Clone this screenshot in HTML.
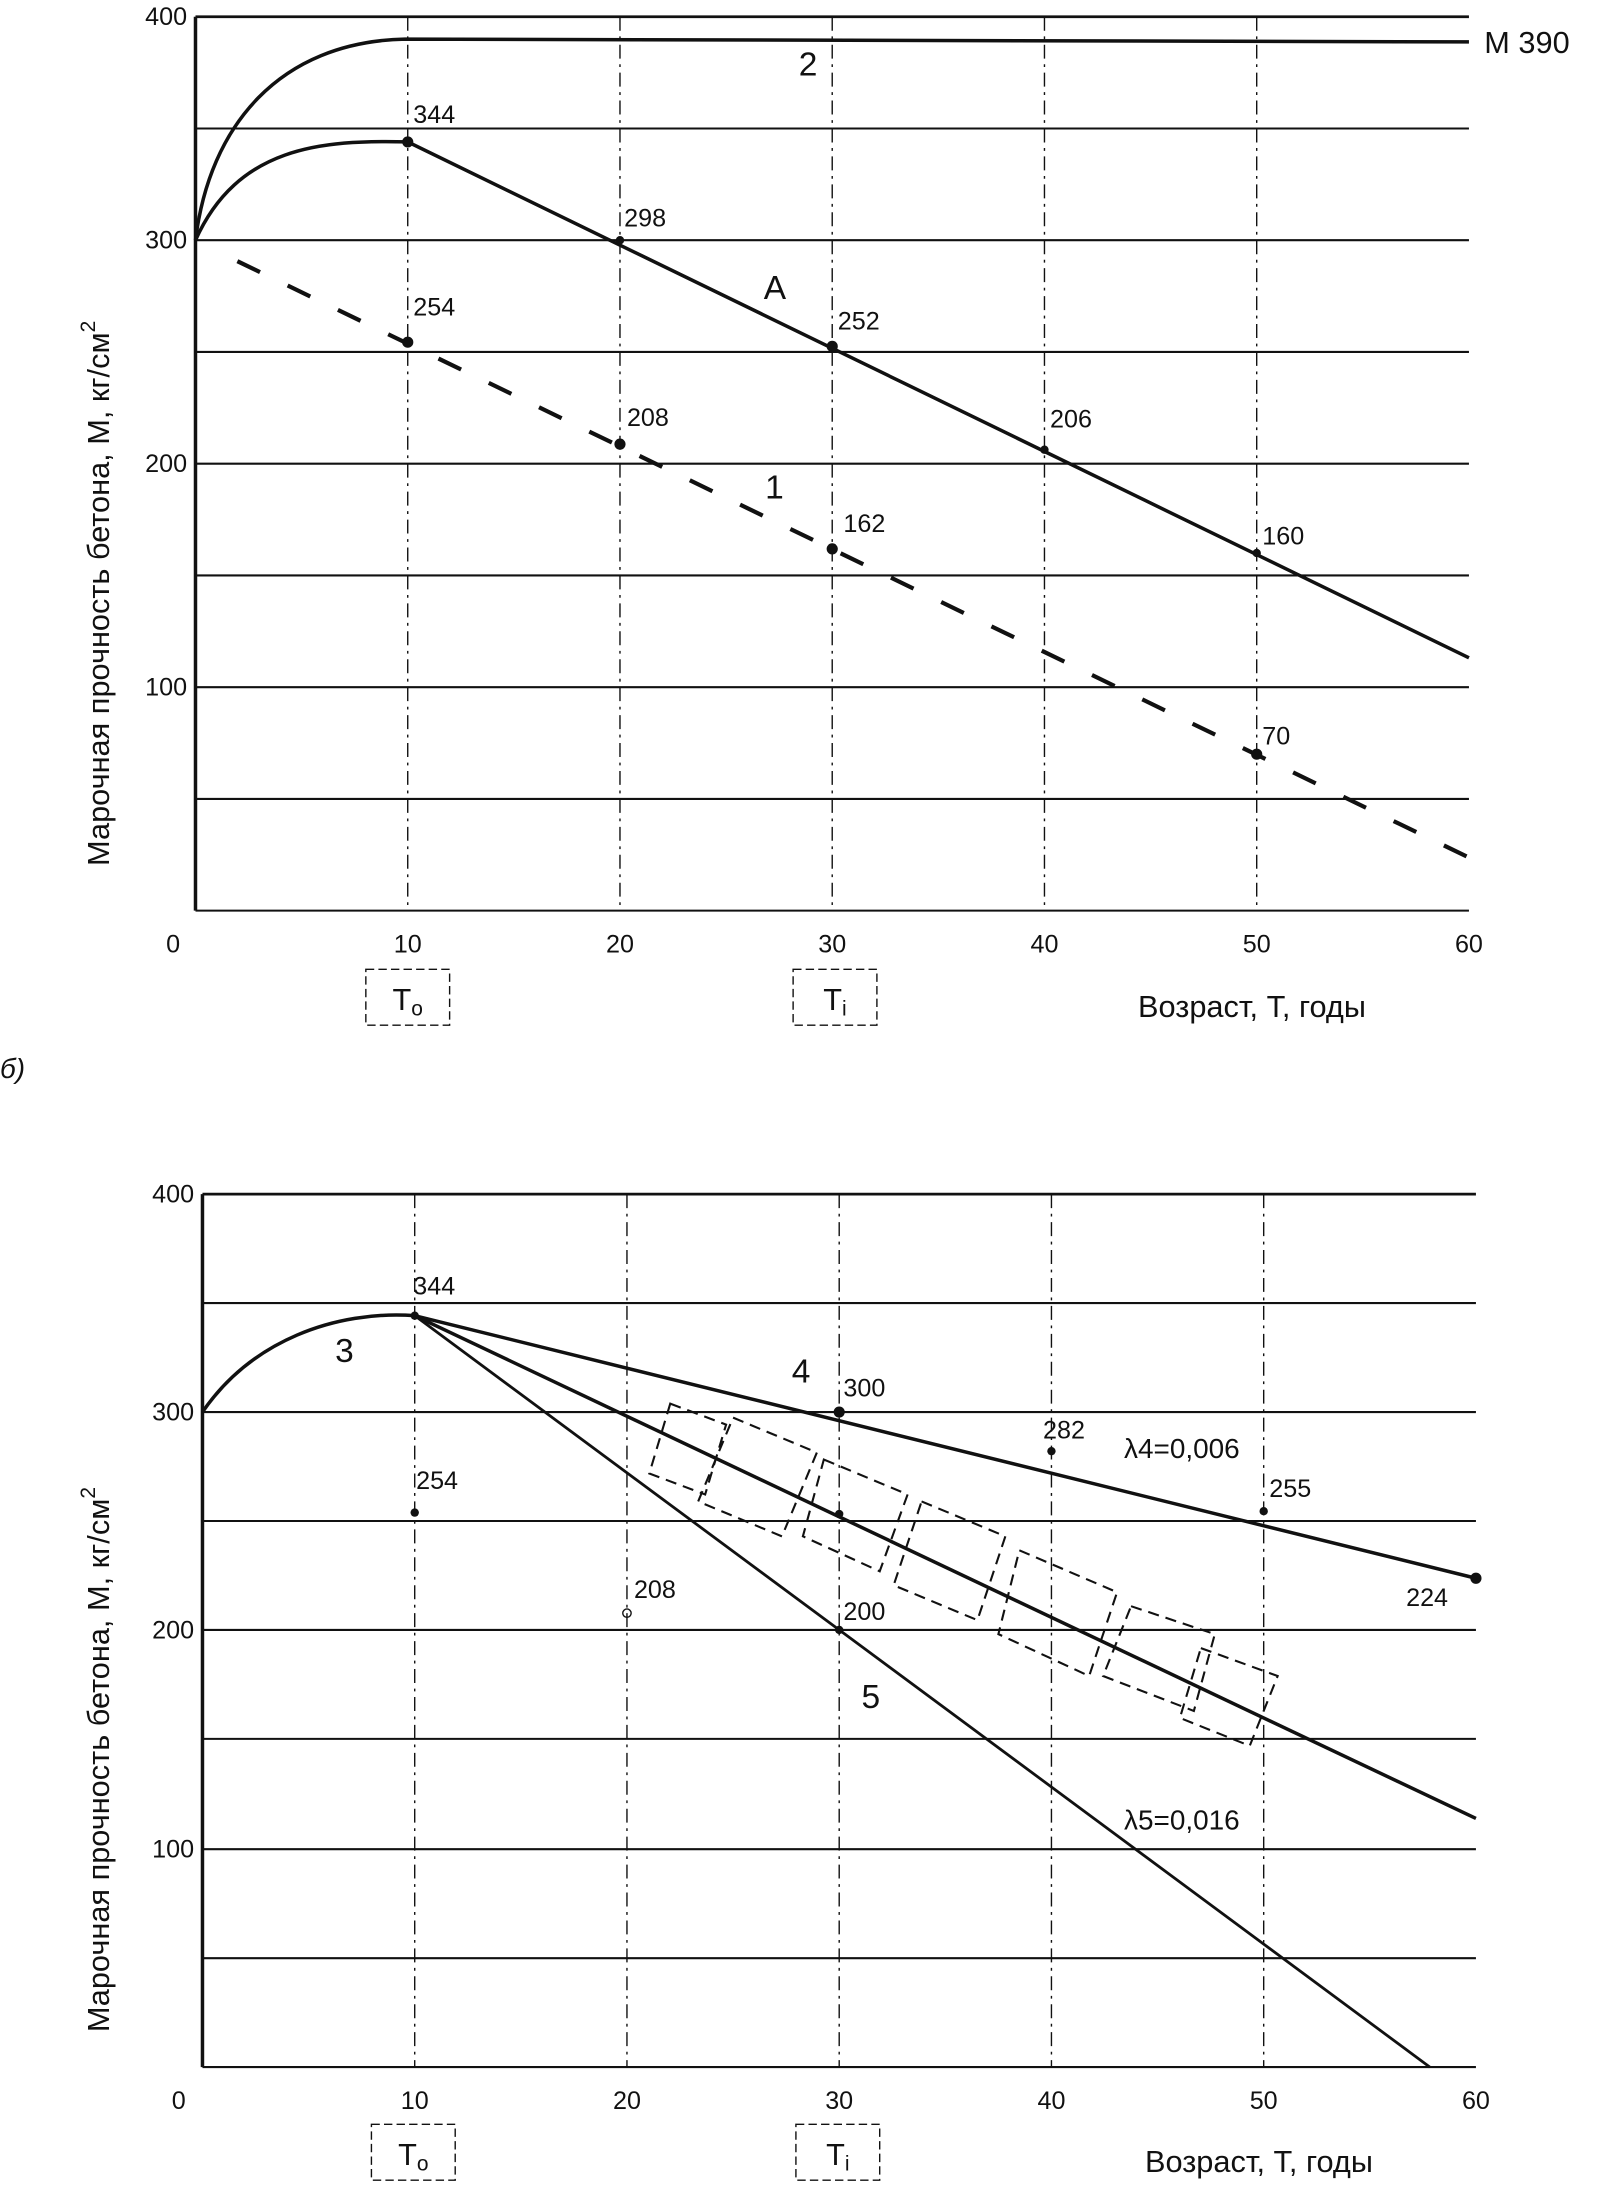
<!DOCTYPE html>
<html><head><meta charset="utf-8"><style>
html,body{margin:0;padding:0;background:#fff}
svg{display:block}
text{font-family:"Liberation Sans",sans-serif;fill:#111}
</style></head><body>
<svg width="1603" height="2190" viewBox="0 0 1148 1568" preserveAspectRatio="none" xmlns="http://www.w3.org/2000/svg">
<g stroke="#111" fill="none">
<!-- TOP CHART -->
<line x1="140" y1="12" x2="1052" y2="12" stroke-width="2"/>
<line x1="140" y1="12" x2="140" y2="652" stroke-width="2.5"/>
<line x1="140" y1="652" x2="1052" y2="652" stroke-width="1.5"/>
<g stroke-width="1.5">
<line x1="140" y1="92" x2="1052" y2="92"/><line x1="140" y1="172" x2="1052" y2="172"/>
<line x1="140" y1="252" x2="1052" y2="252"/><line x1="140" y1="332" x2="1052" y2="332"/>
<line x1="140" y1="412" x2="1052" y2="412"/><line x1="140" y1="492" x2="1052" y2="492"/>
<line x1="140" y1="572" x2="1052" y2="572"/>
</g>
<g stroke-width="1" stroke-dasharray="10,4,2,4">
<line x1="292" y1="12" x2="292" y2="652"/><line x1="444" y1="12" x2="444" y2="652"/>
<line x1="596" y1="12" x2="596" y2="652"/><line x1="748" y1="12" x2="748" y2="652"/>
<line x1="900" y1="12" x2="900" y2="652"/>
</g>
<path d="M140 172 C150 90 200 30 290 28 L1052 30" stroke-width="2.5"/>
<path d="M140 172 C170 105 230 100 292 101.6 L1052 471" stroke-width="2.5"/>
<line x1="170" y1="187" x2="1052" y2="614" stroke-width="3" stroke-dasharray="18,22"/>
<!-- BOTTOM CHART -->
<line x1="145" y1="855" x2="1057" y2="855" stroke-width="2"/>
<line x1="145" y1="855" x2="145" y2="1480" stroke-width="2.5"/>
<line x1="145" y1="1480" x2="1057" y2="1480" stroke-width="1.5"/>
<g stroke-width="1.5">
<line x1="145" y1="933" x2="1057" y2="933"/><line x1="145" y1="1011" x2="1057" y2="1011"/>
<line x1="145" y1="1089" x2="1057" y2="1089"/><line x1="145" y1="1167" x2="1057" y2="1167"/>
<line x1="145" y1="1245" x2="1057" y2="1245"/><line x1="145" y1="1324" x2="1057" y2="1324"/>
<line x1="145" y1="1402" x2="1057" y2="1402"/>
</g>
<g stroke-width="1" stroke-dasharray="10,4,2,4">
<line x1="297" y1="855" x2="297" y2="1480"/><line x1="449" y1="855" x2="449" y2="1480"/>
<line x1="601" y1="855" x2="601" y2="1480"/><line x1="753" y1="855" x2="753" y2="1480"/>
<line x1="905" y1="855" x2="905" y2="1480"/>
</g>
<path d="M145 1011 C180 960 240 938 297 942" stroke-width="2.5"/>
<line x1="297" y1="942" x2="1057" y2="1130" stroke-width="2.5"/>
<line x1="297" y1="942" x2="1057" y2="1302" stroke-width="2.5"/>
<line x1="297" y1="942" x2="1024" y2="1480" stroke-width="2"/>
<!-- hatched region -->
<g stroke-width="1.5" stroke-dasharray="8,5">
<path d="M480 1005 L520 1020 L505 1070 L465 1055 Z"/>
<path d="M525 1015 L585 1040 L560 1100 L500 1075 Z"/>
<path d="M590 1045 L650 1070 L630 1125 L575 1100 Z"/>
<path d="M660 1075 L720 1100 L700 1160 L640 1135 Z"/>
<path d="M730 1110 L800 1140 L780 1200 L715 1170 Z"/>
<path d="M810 1150 L870 1170 L855 1225 L790 1200 Z"/>
<path d="M860 1180 L915 1200 L895 1250 L845 1230 Z"/>
</g>
</g>
<!-- markers -->
<g fill="#111">
<circle cx="292" cy="101.6" r="4"/><circle cx="444" cy="172" r="3"/><circle cx="596" cy="248" r="4"/>
<circle cx="748" cy="322" r="3"/><circle cx="900" cy="396" r="3"/>
<circle cx="292" cy="245" r="4"/><circle cx="444" cy="318" r="4"/><circle cx="596" cy="393" r="4"/><circle cx="900" cy="540" r="4"/>
<circle cx="297" cy="942" r="3"/><circle cx="601" cy="1011" r="4"/><circle cx="753" cy="1039" r="3"/><circle cx="905" cy="1082" r="3"/><circle cx="1057" cy="1130" r="4"/>
<circle cx="297" cy="1083" r="3"/><circle cx="449" cy="1155" r="3" fill="none" stroke="#111"/><circle cx="601" cy="1167" r="3"/><circle cx="601" cy="1084" r="3"/>
</g>
<!-- top labels -->
<g font-size="18">
<text x="296" y="88">344</text><text x="447" y="162">298</text><text x="600" y="236">252</text>
<text x="752" y="306">206</text><text x="904" y="390">160</text>
<text x="296" y="226">254</text><text x="449" y="305">208</text><text x="604" y="381">162</text><text x="904" y="533">70</text>
<text x="1063" y="38" font-size="22">М 390</text>
<text x="572" y="54" font-size="24">2</text><text x="547" y="214" font-size="24">А</text><text x="548" y="357" font-size="24">1</text>
<text x="134" y="18" text-anchor="end">400</text><text x="134" y="178" text-anchor="end">300</text>
<text x="134" y="338" text-anchor="end">200</text><text x="134" y="498" text-anchor="end">100</text>
<text x="124" y="682" text-anchor="middle">0</text><text x="292" y="682" text-anchor="middle">10</text>
<text x="444" y="682" text-anchor="middle">20</text><text x="596" y="682" text-anchor="middle">30</text>
<text x="748" y="682" text-anchor="middle">40</text><text x="900" y="682" text-anchor="middle">50</text>
<text x="1052" y="682" text-anchor="middle">60</text>
<text x="815" y="728" font-size="22">Возраст, Т, годы</text>
<text x="0" y="772" font-size="20" font-style="italic">б)</text>
</g>
<g stroke="#111" fill="none" stroke-dasharray="6,3"><rect x="262" y="694" width="60" height="40"/><rect x="568" y="694" width="60" height="40"/>
<rect x="266" y="1521" width="60" height="40"/><rect x="570" y="1521" width="60" height="40"/></g>
<text x="292" y="723" font-size="22" text-anchor="middle">T<tspan font-size="15" dy="4">o</tspan></text>
<text x="598" y="723" font-size="22" text-anchor="middle">T<tspan font-size="15" dy="4">i</tspan></text>
<text x="296" y="1550" font-size="22" text-anchor="middle">T<tspan font-size="15" dy="4">o</tspan></text>
<text x="600" y="1550" font-size="22" text-anchor="middle">T<tspan font-size="15" dy="4">i</tspan></text>
<text transform="translate(78,620) rotate(-90)" font-size="22">Марочная прочность бетона, М, кг/см<tspan font-size="15" dy="-10">2</tspan></text>
<text transform="translate(78,1455) rotate(-90)" font-size="22">Марочная прочность бетона, М, кг/см<tspan font-size="15" dy="-10">2</tspan></text>
<!-- bottom labels -->
<g font-size="18">
<text x="139" y="861" text-anchor="end">400</text><text x="139" y="1017" text-anchor="end">300</text>
<text x="139" y="1173" text-anchor="end">200</text><text x="139" y="1330" text-anchor="end">100</text>
<text x="128" y="1510" text-anchor="middle">0</text><text x="297" y="1510" text-anchor="middle">10</text>
<text x="449" y="1510" text-anchor="middle">20</text><text x="601" y="1510" text-anchor="middle">30</text>
<text x="753" y="1510" text-anchor="middle">40</text><text x="905" y="1510" text-anchor="middle">50</text>
<text x="1057" y="1510" text-anchor="middle">60</text>
<text x="296" y="927">344</text><text x="604" y="1000">300</text><text x="747" y="1030">282</text>
<text x="909" y="1072">255</text><text x="1007" y="1150">224</text>
<text x="298" y="1066">254</text><text x="454" y="1144">208</text><text x="604" y="1160">200</text>
<text x="805" y="1044" font-size="20">λ4=0,006</text><text x="805" y="1310" font-size="20">λ5=0,016</text>
<text x="240" y="975" font-size="24">3</text><text x="567" y="990" font-size="24">4</text><text x="617" y="1223" font-size="24">5</text>
<text x="820" y="1555" font-size="22">Возраст, Т, годы</text>
</g>
</svg>
</body></html>
